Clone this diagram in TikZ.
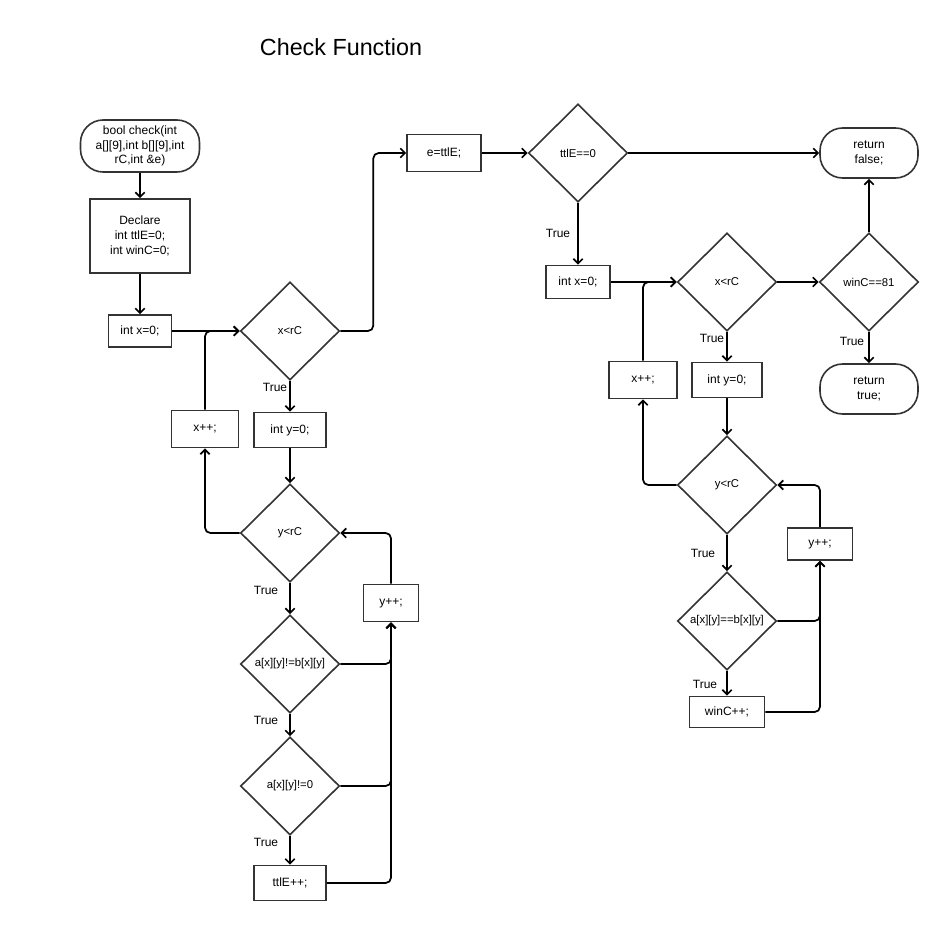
\documentclass[tikz,border=0pt]{standalone}
\usepackage{fontspec}
\setmainfont{Liberation Sans}
\usetikzlibrary{shapes.geometric,arrows.meta}

\tikzset{
	sz/.style 2 args={minimum width=#1*0.75pt,minimum height=#2*0.75pt},
	txt/.style={font=\fontsize{9}{11}\selectfont},
	term/.style={txt,draw=black!80,line width=1.2pt,rounded corners=17pt,align=center,inner sep=1pt},
	proc/.style={txt,draw=black!80,line width=1.2pt,align=center,inner sep=1pt},
	dec/.style={font=\fontsize{8.5}{10.5}\selectfont,draw=black!80,diamond,aspect=1,inner sep=0pt,line width=1.2pt,sz={99}{98}},
	lbl/.style={font=\fontsize{9}{11}\selectfont},
	arr/.style={line width=1.3pt,-{Straight Barb[length=3.5pt,width=7pt]},rounded corners=4pt},
}

\begin{document}
\begin{tikzpicture}[x=0.75pt,y=-0.75pt]
			\useasboundingbox (0,0) rectangle (945,924);
			\node[font=\fontsize{17.5}{21}\selectfont] (title) at (341,47) {Check Function};
			% left loop
			\node[term,sz={119}{52}] (start) at (140,146) {bool check(int\\a[][9],int b[][9],int\\rC,int \&e)};
			\node[proc,sz={100}{74}] (decl) at (140,236) {Declare\\int ttlE=0;\\int winC=0;};
			\node[proc,sz={63}{32}] (ix) at (140,331) {int x=0;};
			\node[dec] (xlt) at (290,331) {x<rC};
			\node[proc,sz={72}{35}] (iy) at (290,430) {int y=0;};
			\node[proc,sz={67}{37}] (xinc) at (205,429) {x++;};
			\node[dec] (ylt) at (290,533) {y<rC};
			\node[proc,sz={55}{37}] (yinc) at (391,603) {y++;};
			\node[dec] (neq) at (290,664) {a[x][y]!=b[x][y]};
			\node[dec] (nz) at (290,786) {a[x][y]!=0};
			\node[proc,sz={72}{35}] (einc) at (290,883) {ttlE++;};
			% right loop
			\node[proc,sz={74}{37}] (sete) at (444,153) {e=ttlE;};
			\node[dec] (ez) at (578,153) {ttlE==0};
			\node[term,sz={98}{50}] (rfalse) at (869,153) {return\\false;};
			\node[proc,sz={64}{33}] (ix2) at (578,282) {int x=0;};
			\node[dec] (xlt2) at (727,282) {x<rC};
			\node[dec] (win) at (869,282) {winC==81};
			\node[term,sz={98}{50}] (rtrue) at (869,389) {return\\true;};
			\node[proc,sz={70}{35}] (iy2) at (727,380) {int y=0;};
			\node[proc,sz={68}{37}] (xinc2) at (643,380) {x++;};
			\node[dec] (ylt2) at (727,485) {y<rC};
			\node[dec] (eq) at (727,621) {a[x][y]==b[x][y]};
			\node[proc,sz={65}{32}] (yinc2) at (820,544) {y++;};
			\node[proc,sz={75}{31}] (winc) at (727,712) {winC++;};
			% labels
			\node[lbl] (t1) at (275,387) {True};
			\node[lbl] (t2) at (266,590) {True};
			\node[lbl] (t3) at (266,720) {True};
			\node[lbl] (t4) at (266,842) {True};
			\node[lbl] (t5) at (558,233) {True};
			\node[lbl] (t6) at (712,338) {True};
			\node[lbl] (t7) at (852,341) {True};
			\node[lbl] (t8) at (703,553) {True};
			\node[lbl] (t9) at (705,684) {True};
			% connectors
			\draw[arr] (start) -- (decl);
			\draw[arr] (decl) -- (ix);
			\draw[arr] (ix) -- (xlt);
			\draw[arr] (xinc.north) |- (xlt.west);
			\draw[arr] (xlt.south) -- (iy.north);
			\draw[arr] (iy) -- (ylt);
			\draw[arr] (ylt.west) -| (xinc.south);
			\draw[arr] (ylt) -- (neq);
			\draw[arr] (neq) -- (nz);
			\draw[arr] (nz) -- (einc);
			\draw[arr] (neq.east) -| (yinc.south);
			\draw[arr] (nz.east) -| (yinc.south);
			\draw[arr] (einc.east) -| (yinc.south);
			\draw[arr] (yinc.north) |- (ylt.east);
			\draw[arr] (xlt.east) -- ++(33,0) |- (sete.west);
			\draw[arr] (sete) -- (ez);
			\draw[arr] (ez) -- (rfalse);
			\draw[arr] (ez) -- (ix2);
			\draw[arr] (ix2) -- (xlt2);
			\draw[arr] (xinc2.north) |- (xlt2.west);
			\draw[arr] (xlt2) -- (win);
			\draw[arr] (win) -- (rfalse);
			\draw[arr] (win) -- (rtrue);
			\draw[arr] (xlt2) -- (iy2);
			\draw[arr] (iy2) -- (ylt2);
			\draw[arr] (ylt2.west) -| (xinc2.south);
			\draw[arr] (ylt2) -- (eq);
			\draw[arr] (eq) -- (winc);
			\draw[arr] (eq.east) -| (yinc2.south);
			\draw[arr] (winc.east) -| (yinc2.south);
			\draw[arr] (yinc2.north) |- (ylt2.east);
\end{tikzpicture}
\end{document}
